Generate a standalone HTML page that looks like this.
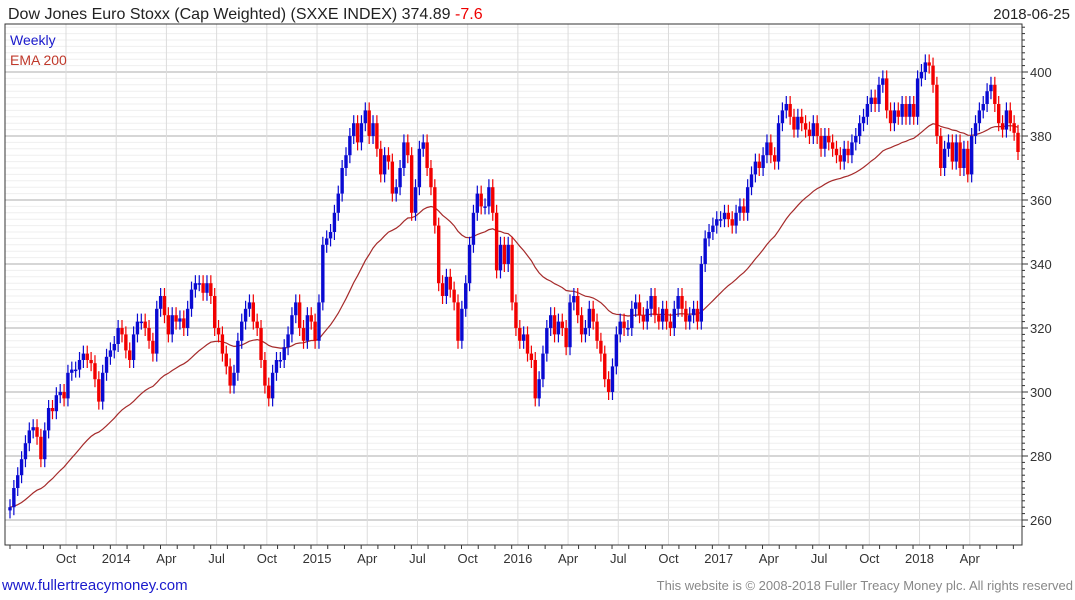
<!DOCTYPE html>
<html><head><meta charset="utf-8"><style>
body{margin:0;background:#fff;font-family:"Liberation Sans",sans-serif;}
svg{display:block}
</style></head><body>
<svg id="chart" width="1075" height="600" xmlns="http://www.w3.org/2000/svg">
<rect x="0" y="0" width="1075" height="600" fill="#fff"/>
<g id="grid"></g>
<g id="ema"></g>
<g id="bars"></g>
<g id="axes"></g>
<text x="8" y="19" font-size="16" fill="#222">Dow Jones Euro Stoxx (Cap Weighted)  (SXXE INDEX) 374.89 <tspan fill="#e00">-7.6</tspan></text>
<text x="1070" y="19" font-size="15" fill="#222" text-anchor="end">2018-06-25</text>
<text x="10" y="45" font-size="14" fill="#1a1acc">Weekly</text>
<text x="10" y="65" font-size="14" fill="#c0392b">EMA 200</text>
<text x="2" y="590" font-size="15" fill="#1a1acc">www.fullertreacymoney.com</text>
<text x="1073" y="590" font-size="13" fill="#888" text-anchor="end">This website is © 2008-2018 Fuller Treacy Money plc. All rights reserved</text>
</svg>
<script>
const closes=[264,270,274,279,284,288,289,286,279,288,295,294,299,300,298,306,307,307,310,312,310,309,304,297,306,311,313,315,320,318,313,310,318,322,322,320,316,312,326,330,324,318,324,322,323,320,326,332,334,334,331,334,330,320,318,312,308,302,306,316,322,326,328,322,320,310,302,298,306,310,310,314,318,324,328,320,316,324,322,316,328,346,348,350,356,362,370,374,380,384,378,384,388,380,384,376,368,374,372,362,364,370,378,374,356,364,376,378,370,364,352,334,330,336,332,328,316,326,334,346,356,362,358,358,364,356,338,346,340,346,328,320,316,318,312,310,298,304,312,320,324,318,322,320,314,328,330,324,318,320,326,322,316,312,304,300,308,318,322,320,320,326,328,324,322,326,330,324,322,326,322,320,326,330,326,322,324,326,322,340,348,350,352,354,354,356,354,352,356,358,356,364,368,372,370,374,378,374,372,384,388,390,386,382,386,384,382,380,384,380,376,380,378,376,374,372,376,374,378,380,384,386,390,392,390,396,398,388,384,388,386,390,386,390,386,398,400,403,402,396,380,370,376,378,372,378,370,376,368,380,384,388,390,394,396,390,384,382,388,384,381,375];
const yTicks=[260,280,300,320,340,360,380,400];
const xLabels=["Oct","2014","Apr","Jul","Oct","2015","Apr","Jul","Oct","2016","Apr","Jul","Oct","2017","Apr","Jul","Oct","2018","Apr"];
const xLabelWeeks=[14.5,27.5,40.5,53.5,66.5,79.5,92.5,105.5,118.5,131.5,144.5,157.5,170.5,183.5,196.5,209.5,222.5,235.5,248.5];
const NS="http://www.w3.org/2000/svg";
const L=5,R=1022,T=24,B=545;
const yS=v=>72+(400-v)*3.2;
const xS=i=>10+i*(1008/261);
function mk(tag,attrs,parent){const e=document.createElementNS(NS,tag);for(const k in attrs)e.setAttribute(k,attrs[k]);parent.appendChild(e);return e;}
const grid=document.getElementById('grid'),axes=document.getElementById('axes'),bars=document.getElementById('bars'),emaG=document.getElementById('ema');
for(let v=258;v<=414;v+=2){const y=yS(v);if(y<T||y>B)continue;const major=v%20===0;
const l=mk('line',{x1:L,x2:R,y1:y,y2:y,stroke:major?'#bdbdbd':'#efefef','stroke-width':major?1.2:1},grid);


const t=mk('line',{x1:R,x2:R+(major?6:3),y1:y,y2:y,stroke:'#333'},axes);

}
yTicks.forEach(v=>{const t=mk('text',{x:1030,y:yS(v)+5,'font-size':13,fill:'#333'},axes);t.textContent=v;

});
xLabelWeeks.forEach((w,k)=>{const x=xS(w);
const g=mk('line',{x1:x,x2:x,y1:T,y2:B,stroke:'#dcdcdc'},grid);


const t=mk('text',{x:x,y:563,'font-size':13,fill:'#333','text-anchor':'middle'},axes);t.textContent=xLabels[k];

});
for(let i=0;i<closes.length;i+=4.33){const x=xS(i);const t=mk('line',{x1:x,x2:x,y1:B,y2:B+4,stroke:'#333'},axes);

}
const frame=mk('rect',{x:L,y:T,width:R-L,height:B-T,fill:'none',stroke:'#333'},axes);


let e=closes[0],pts=[];const k=2/41;
closes.forEach((c,i)=>{e=i===0?c:c*k+e*(1-k);pts.push(xS(i).toFixed(1)+','+yS(e).toFixed(1));});
const pl=mk('polyline',{points:pts.join(' '),fill:'none',stroke:'#a52a2a','stroke-width':1.2},emaG);


closes.forEach((c,i)=>{const o=i===0?c-1:closes[i-1];const up=c>=o;const col=up?'#0a0ad2':'#f20000';
const hi=Math.max(o,c)+2.5,lo=Math.min(o,c)-2.5,x=xS(i);
const g=mk('g',{},bars);


mk('line',{x1:x,x2:x,y1:yS(hi),y2:yS(lo),stroke:col,'stroke-width':1.2},g);
const top=yS(Math.max(o,c)),h=Math.max(1.5,yS(Math.min(o,c))-top);
mk('rect',{x:x-1.7,y:top,width:3.4,height:h,fill:col},g);});
</script>
</body></html>
